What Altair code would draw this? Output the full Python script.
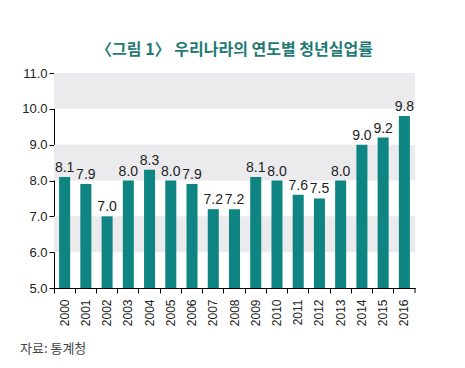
import altair as alt
import pandas as pd

years = [str(y) for y in range(2000, 2017)]
rates = [8.1, 7.9, 7.0, 8.0, 8.3, 8.0, 7.9, 7.2, 7.2, 8.1, 8.0, 7.6, 7.5, 8.0, 9.0, 9.2, 9.8]
band_lo = [10, 8, 6]
band_hi = [11, 9, 7]
y_ticks = [5, 6, 7, 8, 9, 10, 11]

W, H = 361, 215
df = pd.DataFrame({"year": years, "rate": rates, "labels": [f"{v:.1f}" for v in rates]})
bands = pd.DataFrame({"lo": band_lo, "hi": band_hi})

yscale = alt.Scale(domain=[5, 11], zero=False, nice=False)
xscale = alt.Scale(paddingInner=0, paddingOuter=0)
yaxis = alt.Axis(title=None, values=y_ticks, format=".1f", grid=False, labelOverlap=False,
                 tickCount=20, labelFont="Liberation Sans", labelFontSize=13, labelColor="#222",
                 tickSize=5, tickColor="#000", domainColor="#000", labelPadding=2)

bg = alt.Chart(bands).mark_rect(color="#ebebed").encode(
    x=alt.value(0), x2=alt.value(W),
    y=alt.Y("lo:Q", scale=yscale, axis=yaxis), y2="hi:Q",
)

bars = alt.Chart(df).mark_bar(color="#0f8583", width=alt.RelativeBandSize(0.52)).encode(
    x=alt.X("year:N", scale=xscale, sort=years,
            axis=alt.Axis(title=None, labelAngle=-90, labelFont="Liberation Sans",
                          labelFontSize=12, labelColor="#222", bandPosition=0,
                          tickSize=5, tickColor="#000", domainColor="#000",
                          labelPadding=6, labelBaseline="middle", labelAlign="right")),
    y=alt.Y("rate:Q", scale=yscale, axis=yaxis),
    y2=alt.datum(5),
)

last_tick = alt.Chart(df[df.year == years[-1]]).mark_rule(color="#000").encode(
    x=alt.X("year:N", scale=xscale, sort=years, bandPosition=1),
    y=alt.value(H), y2=alt.value(H + 5),
)

text = alt.Chart(df).mark_text(font="Liberation Sans", fontSize=14, color="#222",
                               baseline="bottom", dy=-2).encode(
    x=alt.X("year:N", scale=xscale, sort=years),
    y=alt.Y("rate:Q", scale=yscale, axis=yaxis),
    text="labels:N",
)

source = alt.Chart(pd.DataFrame({"t": ["자료:  통계청"]})).mark_text(
    font="Noto Sans CJK KR", fontSize=13, color="#444", align="left", baseline="middle"
).encode(x=alt.value(-34), y=alt.value(H + 61), text="t:N")

chart = alt.layer(bg, bars, last_tick, text, source).properties(
    width=W, height=H,
    padding={"left": 12, "top": 34, "right": 5, "bottom": 5},
    title=alt.TitleParams("〈그림 1〉 우리나라의 연도별 청년실업률", font="Noto Sans CJK KR",
                          fontSize=16, fontWeight="bold", color="#1f7a74", offset=9,
                          anchor="middle"),
).configure_view(stroke=None).configure_axis(labelOverlap=False)

chart.save("out.html", embed_options={"renderer": "svg", "actions": False})
